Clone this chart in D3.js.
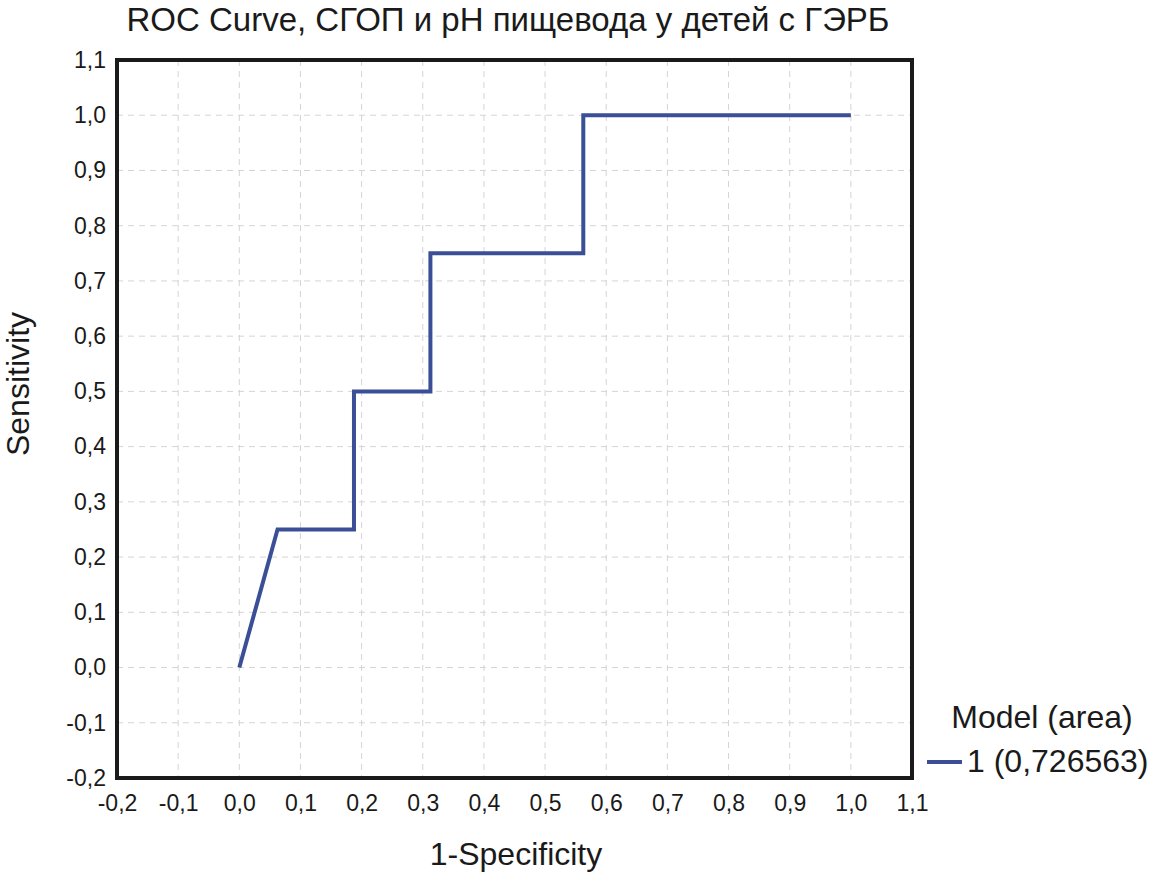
<!DOCTYPE html>
<html lang="ru">
<head>
  <meta charset="UTF-8">
  <title>ROC Curve</title>
  <script src="https://d3js.org/d3.v7.min.js"></script>
  <style>
    body { margin:0; background:#fff; overflow:hidden; }
    svg { display:block; font-family:"Liberation Sans", Arial, sans-serif; }
  </style>
</head>
<body>
  <script>
    // data
    const fpr = [0, 0.0625, 0.1875, 0.1875, 0.3125, 0.3125, 0.5625, 0.5625, 1.0];
    const tpr = [0, 0.25,   0.25,   0.5,    0.5,    0.75,   0.75,   1.0,    1.0];
    const xTicks = [-0.2, -0.1, 0.0, 0.1, 0.2, 0.3, 0.4, 0.5, 0.6, 0.7, 0.8, 0.9, 1.0, 1.1];
    const yTicks = [-0.2, -0.1, 0.0, 0.1, 0.2, 0.3, 0.4, 0.5, 0.6, 0.7, 0.8, 0.9, 1.0, 1.1];
    const seriesName = "1 (0,726563)";

    const width = 1154, height = 872;
    const m = {left:117, right:1154-912, top:60, bottom:872-778};
    const fmt = v => d3.format(".1f")(v).replace("−", "-").replace(".", ",");

    const svg = d3.select("body").append("svg")
      .attr("width", width).attr("height", height);

    const x = d3.scaleLinear().domain([-0.2, 1.1]).range([m.left, width - m.right]);
    const y = d3.scaleLinear().domain([-0.2, 1.1]).range([height - m.bottom, m.top]);

    // grid
    svg.append("g").selectAll("line").data(xTicks.slice(1, -1)).enter().append("line")
      .attr("x1", d => x(d)).attr("x2", d => x(d))
      .attr("y1", m.top).attr("y2", height - m.bottom)
      .attr("stroke", "#d4d4d4").attr("stroke-dasharray", "6,5");
    svg.append("g").selectAll("line").data(yTicks.slice(1, -1)).enter().append("line")
      .attr("y1", d => y(d)).attr("y2", d => y(d))
      .attr("x1", m.left).attr("x2", width - m.right)
      .attr("stroke", "#d4d4d4").attr("stroke-dasharray", "6,5");

    // axes (labels only)
    const xAxis = svg.append("g")
      .attr("transform", `translate(0,${height - m.bottom})`)
      .call(d3.axisBottom(x).tickValues(xTicks).tickFormat(fmt).tickSize(0).tickPadding(17));
    const yAxis = svg.append("g")
      .attr("transform", `translate(${m.left},0)`)
      .call(d3.axisLeft(y).tickValues(yTicks).tickFormat(fmt).tickSize(0).tickPadding(11));
    [xAxis, yAxis].forEach(a => {
      a.select(".domain").remove();
      a.selectAll("text").attr("font-size", 23).attr("fill", "#1a1a1a")
        .attr("font-family", "'Liberation Sans', Arial, sans-serif");
    });

    // frame
    svg.append("rect")
      .attr("x", m.left).attr("y", m.top)
      .attr("width", width - m.left - m.right).attr("height", height - m.top - m.bottom)
      .attr("fill", "none").attr("stroke", "#1a1a1a").attr("stroke-width", 4);

    // ROC line
    const pts = fpr.map((d, i) => [d, tpr[i]]);
    svg.append("path")
      .datum(pts)
      .attr("fill", "none")
      .attr("stroke", "#3a4f96")
      .attr("stroke-width", 4)
      .attr("d", d3.line().x(d => x(d[0])).y(d => y(d[1])));

    // titles
    svg.append("text").attr("x", 508).attr("y", 31)
      .attr("text-anchor", "middle").attr("font-size", 33).attr("fill", "#1a1a1a")
      .text("ROC Curve, СГОП и рН пищевода у детей с ГЭРБ");
    svg.append("text").attr("x", 516).attr("y", 865)
      .attr("text-anchor", "middle").attr("font-size", 32).attr("fill", "#1a1a1a")
      .text("1-Specificity");
    svg.append("text")
      .attr("transform", `translate(29,${(m.top + height - m.bottom) / 2 - 35}) rotate(-90)`)
      .attr("text-anchor", "middle").attr("font-size", 32).attr("fill", "#1a1a1a")
      .text("Sensitivity");

    // legend
    svg.append("text").attr("x", 1042).attr("y", 728)
      .attr("text-anchor", "middle").attr("font-size", 32).attr("fill", "#1a1a1a")
      .text("Model (area)");
    svg.append("line").attr("x1", 927).attr("x2", 962).attr("y1", 762).attr("y2", 762)
      .attr("stroke", "#3a4f96").attr("stroke-width", 4);
    svg.append("text").attr("x", 967).attr("y", 772)
      .attr("font-size", 32).attr("fill", "#1a1a1a")
      .text(seriesName);
  </script>
</body>
</html>
